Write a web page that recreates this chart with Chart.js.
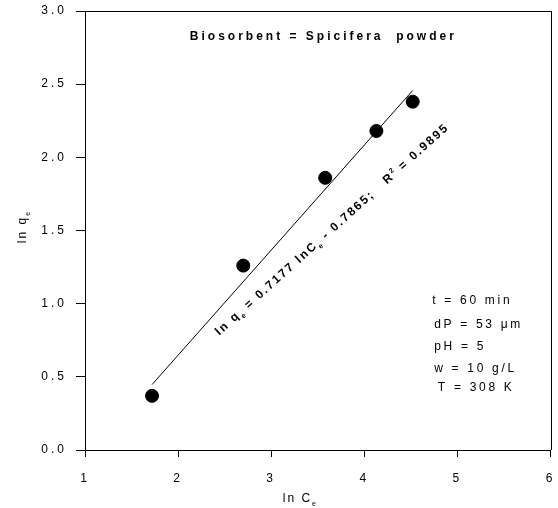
<!DOCTYPE html>
<html>
<head>
<meta charset="utf-8">
<script src="https://cdn.jsdelivr.net/npm/chart.js@4.4.1/dist/chart.umd.min.js"></script>
<style>
  html, body { margin: 0; padding: 0; background: #fff; }
  #wrap { width: 558px; height: 508px; }
</style>
</head>
<body>
<div id="wrap"><canvas id="c" width="558" height="508"></canvas></div>
<script>
// ---- data ----
const lnCe = [1.72, 2.70, 3.58, 4.13, 4.52];
const lnQe = [0.37, 1.26, 1.86, 2.18, 2.38];
const fitX = [1.72, 4.52];
const fitY = [0.447, 2.457];
const xTicks = [1, 2, 3, 4, 5, 6];
const yTickLabels = ['0.0', '0.5', '1.0', '1.5', '2.0', '2.5', '3.0'];
const titleText = 'Biosorbent = Spicifera  powder';
const infoLines = ['t = 60 min', 'dP = 53 \u03bcm', 'pH = 5', 'w = 10 g/L', 'T = 308 K'];
const eqSegments = [
  ['ln q', 0], ['e', -1], [' = 0.7177 lnC', 0], ['e', -1], [' - 0.7865;   R', 0], ['2', 1], [' = 0.9895', 0]
];

// ---- placement (data coordinates) ----
const titlePos = [3.56, 2.83];
const eqPos = [3.65, 1.51];
const infoX = [4.73, 4.75, 4.75, 4.75, 4.79];
const infoY = [1.025, 0.862, 0.71, 0.56, 0.43];

const FONT = '"Liberation Sans", Arial, sans-serif';
const INK = '#000';

function drawRich(ctx, segs, x, y, size, bold, ls, align) {
  const w = bold ? 'bold ' : '';
  let total = 0;
  const parts = segs.map(([t, k]) => {
    const fs = k === 0 ? size : Math.round(size * 0.62);
    ctx.font = w + fs + 'px ' + FONT;
    ctx.letterSpacing = (k === 0 ? ls : ls * 0.6) + 'px';
    const wd = ctx.measureText(t).width;
    total += wd;
    return { t, k, fs, wd };
  });
  let cx = align === 'center' ? x - total / 2 : x;
  ctx.textAlign = 'left';
  ctx.textBaseline = 'alphabetic';
  parts.forEach(p => {
    ctx.font = w + p.fs + 'px ' + FONT;
    ctx.letterSpacing = (p.k === 0 ? ls : ls * 0.6) + 'px';
    const dy = p.k === -1 ? size * 0.3 : (p.k === 1 ? -size * 0.45 : 0);
    ctx.fillText(p.t, cx, y + dy);
    cx += p.wd;
  });
}

const deco = {
  id: 'deco',
  beforeDraw(chart) {
    chart.ctx.letterSpacing = '3px';
  },
  afterDraw(chart) {
    const { ctx, chartArea: a, scales: { x, y } } = chart;
    ctx.save();
    ctx.letterSpacing = '0px';
    ctx.globalAlpha = 1;
    ctx.fillStyle = '#000';
    // top and right frame
    ctx.fillRect(Math.round(a.left), Math.round(a.top), Math.round(a.right - a.left) + 1, 1);
    ctx.fillRect(Math.round(a.right), Math.round(a.top), 1, Math.round(a.bottom - a.top));

    ctx.fillStyle = INK;
    // title
    drawRich(ctx, [[titleText, 0]], x.getPixelForValue(titlePos[0]), y.getPixelForValue(titlePos[1]) + 4, 12, true, 3.0, 'center');
    // info lines
    infoLines.forEach((t, i) => {
      drawRich(ctx, [[t, 0]], x.getPixelForValue(infoX[i]), y.getPixelForValue(infoY[i]) + 4, 12, false, 2.7, 'left');
    });
    // equation (rotated)
    ctx.save();
    ctx.translate(x.getPixelForValue(eqPos[0]), y.getPixelForValue(eqPos[1]));
    ctx.rotate(-42 * Math.PI / 180);
    drawRich(ctx, eqSegments, 0, 4, 12, true, 2.0, 'center');
    ctx.restore();
    // x axis title
    drawRich(ctx, [['ln C', 0], ['e', -1]], a.left + 215, 502, 12, false, 2.0, 'center');
    // y axis title
    ctx.save();
    ctx.translate(26, a.top + 216);
    ctx.rotate(-Math.PI / 2);
    drawRich(ctx, [['ln q', 0], ['e', -1]], 0, 0, 12, false, 2.0, 'center');
    ctx.restore();
    ctx.restore();
  }
};

new Chart(document.getElementById('c'), {
  type: 'scatter',
  data: {
    datasets: [
      {
        type: 'line',
        data: fitX.map((v, i) => ({ x: v, y: fitY[i] })),
        borderColor: '#000',
        borderWidth: 1,
        pointRadius: 0,
        fill: false
      },
      {
        data: lnCe.map((v, i) => ({ x: v, y: lnQe[i] })),
        backgroundColor: '#000',
        borderColor: '#000',
        pointRadius: 6.5,
        pointHoverRadius: 6.5
      }
    ]
  },
  options: {
    responsive: false,
    animation: false,
    devicePixelRatio: 1,
    layout: { padding: { left: 0, right: 7, top: 11, bottom: 0 } },
    plugins: { legend: { display: false }, tooltip: { enabled: false } },
    scales: {
      x: {
        type: 'linear',
        min: 1, max: 6,
        afterBuildTicks(s) { s.ticks = xTicks.map(v => ({ value: v })); },
        afterFit(s) { s.height = 58; s.paddingLeft = 0; s.paddingRight = 0; },
        grid: { drawOnChartArea: false, drawTicks: true, tickLength: 7, color: '#000' },
        border: { display: true, color: '#000', width: 1 },
        ticks: { color: INK, font: { family: FONT, size: 12 }, padding: 14, maxRotation: 0,
                 callback: v => String(v) }
      },
      y: {
        type: 'linear',
        min: 0, max: 3,
        afterBuildTicks(s) { s.ticks = yTickLabels.map(t => ({ value: parseFloat(t) })); },
        afterFit(s) { s.width = 85; s.paddingTop = 0; s.paddingBottom = 0; },
        grid: { drawOnChartArea: false, drawTicks: true, tickLength: 9, color: '#000' },
        border: { display: true, color: '#000', width: 1 },
        ticks: { color: INK, font: { family: FONT, size: 12 }, padding: 9,
                 callback: v => yTickLabels[Math.round(v * 2)] }
      }
    }
  },
  plugins: [deco]
});
</script>
</body>
</html>
